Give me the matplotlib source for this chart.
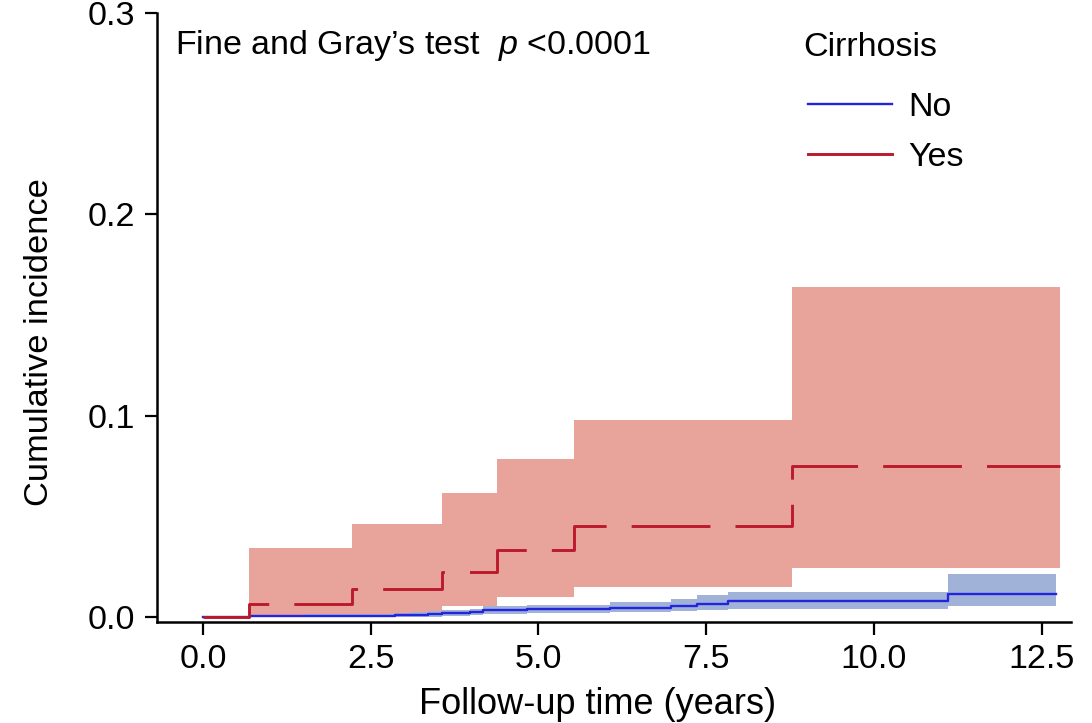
import matplotlib
matplotlib.use("Agg")
import matplotlib.pyplot as plt
from matplotlib.lines import Line2D

plt.rcParams['font.family'] = ['Liberation Sans', 'DejaVu Sans']
plt.rcParams['mathtext.fontset'] = 'custom'
plt.rcParams['mathtext.it'] = 'Liberation Sans:italic'
plt.rcParams['mathtext.rm'] = 'Liberation Sans'

# Cirrhosis = Yes
yes_time = [0, 0.686, 2.22, 3.56, 4.38, 5.53, 8.78, 12.77]
yes_cif = [0, 0.0065, 0.0139, 0.0224, 0.0333, 0.0452, 0.075, 0.075]
yes_lo = [0, 0.0, 0.0002, 0.0055, 0.0099, 0.0149, 0.0243, 0.0243]
yes_hi = [0, 0.0343, 0.0463, 0.0616, 0.0785, 0.098, 0.164, 0.164]

# Cirrhosis = No
no_time = [0, 0.7, 1.5, 2.86, 3.1, 3.35, 3.56, 3.98, 4.18, 4.83, 6.07, 6.97, 7.36, 7.83, 11.1, 12.72]
no_cif = [0, 0.0003, 0.0005, 0.0008, 0.0011, 0.0014, 0.0018, 0.0025, 0.0037, 0.0042, 0.0047, 0.0056, 0.0065, 0.0078, 0.0114, 0.0114]
no_lo = [0, 0, 0, 0, 0, 0, 0.0003, 0.0008, 0.0015, 0.002, 0.0025, 0.003, 0.0035, 0.004, 0.0052, 0.0052]
no_hi = [0, 0.001, 0.0015, 0.002, 0.0025, 0.003, 0.0035, 0.004, 0.0055, 0.006, 0.0075, 0.009, 0.011, 0.0126, 0.0214, 0.0214]

xticks = [0.0, 2.5, 5.0, 7.5, 10.0, 12.5]
yticks = [0.0, 0.1, 0.2, 0.3]

red = '#BA1A2C'
red_fill = '#E8A49A'
blue = '#2424DC'
blue_fill = '#A0B2D7'

fig = plt.figure(figsize=(10.92, 7.23), dpi=100)
ax = fig.add_axes([0.1438, 0.1397, 0.8370, 0.8423])

ax.fill_between(yes_time, yes_lo, yes_hi, step='post', color=red_fill, lw=0, zorder=1)
ax.fill_between(no_time, no_lo, no_hi, step='post', color=blue_fill, lw=0, zorder=2)
ax.step(no_time, no_cif, where='post', color=blue, lw=1.7, zorder=3)
ax.step(yes_time, yes_cif, where='post', color=red, lw=2.1,
        linestyle=(0, (27, 8.6)), zorder=4)

ax.set_xlim(-0.686, 12.94)
ax.set_ylim(-0.0025, 0.3)
ax.set_xticks(xticks)
ax.set_xticklabels([f"{v:.1f}" for v in xticks])
ax.set_yticks(yticks)
ax.set_yticklabels([f"{v:.1f}" for v in yticks])

for s in ['top', 'right']:
    ax.spines[s].set_visible(False)
for s in ['left', 'bottom']:
    ax.spines[s].set_linewidth(1.8)
ax.tick_params(axis='both', labelsize=24.5, width=1.6, length=9, pad=7, direction='out')

ax.set_xlabel('Follow-up time (years)', fontsize=26)
ax.xaxis.set_label_coords(0.4825, -0.106)
ax.set_ylabel('Cumulative incidence', fontsize=24.8)
ax.yaxis.set_label_coords(-0.112, 0.46)

ax.text(0.0197, 0.947, 'Fine and Gray’s test  $\\it{p}$ <0.0001', transform=ax.transAxes,
        fontsize=24.5, va='center', ha='left')

# legend: title drawn as its own text, entries as a legend
ax.text((803 - 157) / 914, (622 - 47) / 609, 'Cirrhosis', transform=ax.transAxes,
        fontsize=24.5, va='center', ha='left')
handles = [Line2D([], [], color=blue, lw=1.7), Line2D([], [], color=red, lw=2.1)]
leg = ax.legend(handles, ['No', 'Yes'], loc='upper left',
                bbox_to_anchor=(0.6975, 0.893), frameon=False, fontsize=24.5,
                handlelength=2.45, handletextpad=0.5, labelspacing=0.55,
                borderaxespad=0)

fig.savefig('out.png', dpi=100)
